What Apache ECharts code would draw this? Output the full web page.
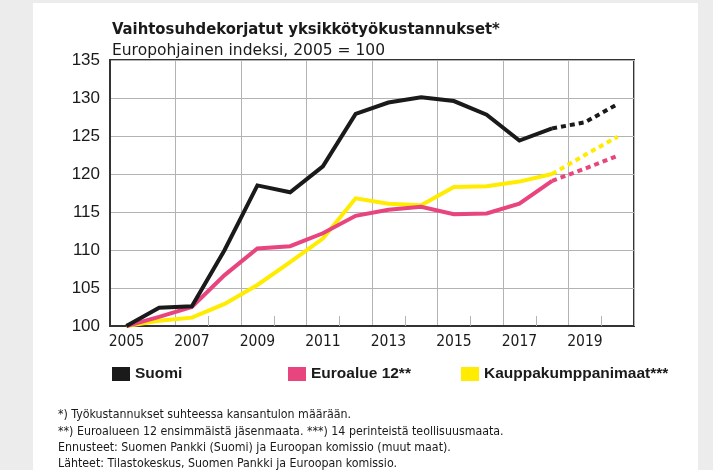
<!DOCTYPE html>
<html>
<head>
<meta charset="utf-8">
<script src="https://cdn.jsdelivr.net/npm/echarts@6/dist/echarts.min.js"></script>
<style>
html, body { margin: 0; padding: 0; background: #ececec; }
#chart { width: 713px; height: 470px; }
</style>
</head>
<body>
<div id="chart"></div>
<script>
// vuodet (x-akseli)
const years = ['2005', '2006', '2007', '2008', '2009', '2010', '2011', '2012',
    '2013', '2014', '2015', '2016', '2017', '2018', '2019', '2020'];

// toteutuneet
const suomi = [100, 102.4, 102.6, 110.0, 118.5, 117.6, 121.0, 127.9, 129.4, 130.1, 129.6, 127.8, 124.4, 126.0, null, null];
const euroalue = [100, 101.2, 102.5, 106.7, 110.2, 110.5, 112.2, 114.5, 115.3, 115.7, 114.7, 114.8, 116.1, 119.1, null, null];
const kauppa = [100, 100.7, 101.1, 102.9, 105.4, 108.4, 111.5, 116.8, 116.1, 115.9, 118.3, 118.4, 119.0, 120.0, null, null];

// ennusteet
const suomiEnnuste = [null, null, null, null, null, null, null, null, null, null, null, null, null, 126.0, 126.8, 129.2];
const euroalueEnnuste = [null, null, null, null, null, null, null, null, null, null, null, null, null, 119.1, 120.7, 122.4];
const kauppaEnnuste = [null, null, null, null, null, null, null, null, null, null, null, null, null, 120.0, 122.5, 124.9];

const yTicks = { min: 100, max: 135, step: 5 };

const nimet = ['Suomi', 'Euroalue 12**', 'Kauppakumppanimaat***'];
const varit = ['#1a1a1a', '#e8457f', '#ffec00'];

const footnote = [
    '*) Työkustannukset suhteessa kansantulon määrään.',
    '**) Euroalueen 12 ensimmäistä jäsenmaata. ***) 14 perinteistä teollisuusmaata.',
    'Ennusteet: Suomen Pankki (Suomi) ja Euroopan komissio (muut maat).',
    'Lähteet: Tilastokeskus, Suomen Pankki ja Euroopan komissio.'
];

const narrow = '"DejaVu Sans Condensed", Roboto, sans-serif';

const chart = echarts.init(document.getElementById('chart'));

function toteutunut(i, data) {
    return {
        name: nimet[i],
        type: 'line',
        xAxisIndex: 0,
        data: data,
        symbol: 'none',
        z: 5 - i,
        itemStyle: { color: varit[i] },
        lineStyle: { color: varit[i], width: 4, join: 'miter' }
    };
}

function ennuste(i, data) {
    return {
        name: nimet[i],
        type: 'line',
        xAxisIndex: 0,
        data: data,
        symbol: 'none',
        z: 5 - i,
        itemStyle: { color: varit[i] },
        lineStyle: { color: varit[i], width: 4, type: [5, 4], cap: 'butt' }
    };
}

const legendBase = {
    icon: 'rect',
    itemWidth: 18,
    itemHeight: 14,
    itemGap: 8,
    top: 361,
    selectedMode: false,
    textStyle: { fontFamily: 'Liberation Sans', fontWeight: 'bold', fontSize: 15.5, color: '#1a1a1a' }
};

const option = {
    backgroundColor: '#ececec',
    animation: false,
    graphic: [{
        type: 'rect',
        z: -10,
        shape: { x: 33, y: 3, width: 665, height: 470 },
        style: { fill: '#ffffff' }
    }],
    title: [{
        text: 'Vaihtosuhdekorjatut yksikkötyökustannukset*',
        left: 107,
        top: 16,
        textStyle: { fontFamily: narrow, fontWeight: 'bold', fontSize: 16.5, color: '#1a1a1a' }
    }, {
        text: 'Europohjainen indeksi, 2005 = 100',
        left: 107,
        top: 38,
        textStyle: { fontFamily: 'DejaVu Sans', fontWeight: 'normal', fontSize: 15.5, color: '#1a1a1a' }
    }, {
        text: footnote.join('\n'),
        left: 53,
        top: 402,
        textStyle: { fontFamily: narrow, fontWeight: 'normal', fontSize: 12.3, lineHeight: 16.3, color: '#1a1a1a' }
    }],
    legend: [
        Object.assign({}, legendBase, { data: [nimet[0]], left: 107 }),
        Object.assign({}, legendBase, { data: [nimet[1]], left: 283 }),
        Object.assign({}, legendBase, { data: [nimet[2]], left: 456 })
    ],
    grid: {
        left: 110,
        top: 60,
        right: 79,
        bottom: 144,
        show: true,
        borderColor: '#333',
        borderWidth: 2
    },
    xAxis: [{
        type: 'category',
        data: years,
        boundaryGap: true,
        axisLine: { lineStyle: { color: '#333', width: 2 } },
        axisTick: { show: false },
        splitLine: {
            show: true,
            interval: (i) => i > 0 && i % 2 === 0,
            lineStyle: { color: '#b3b3b3', width: 1 }
        },
        axisLabel: {
            interval: 1,
            margin: 8,
            fontFamily: narrow,
            fontSize: 15.5,
            color: '#1a1a1a'
        }
    }, {
        // lyhyet väliviivat alareunassa
        type: 'category',
        data: years,
        position: 'bottom',
        boundaryGap: true,
        axisLine: { show: false },
        axisLabel: { show: false },
        splitLine: { show: false },
        axisTick: {
            show: true,
            inside: true,
            length: 10,
            interval: (i) => i > 1 && i % 2 === 1,
            lineStyle: { color: '#b3b3b3', width: 1 }
        }
    }],
    yAxis: {
        type: 'value',
        min: yTicks.min,
        max: yTicks.max,
        interval: yTicks.step,
        axisLine: { show: true, lineStyle: { color: '#333', width: 2 } },
        axisTick: { show: false },
        splitLine: { lineStyle: { color: '#b3b3b3', width: 1 } },
        axisLabel: {
            margin: 10,
            fontFamily: 'Liberation Sans',
            fontSize: 17,
            color: '#1a1a1a'
        }
    },
    series: [
        toteutunut(2, kauppa),
        ennuste(2, kauppaEnnuste),
        toteutunut(1, euroalue),
        ennuste(1, euroalueEnnuste),
        toteutunut(0, suomi),
        ennuste(0, suomiEnnuste)
    ]
};

chart.setOption(option);
</script>
</body>
</html>
